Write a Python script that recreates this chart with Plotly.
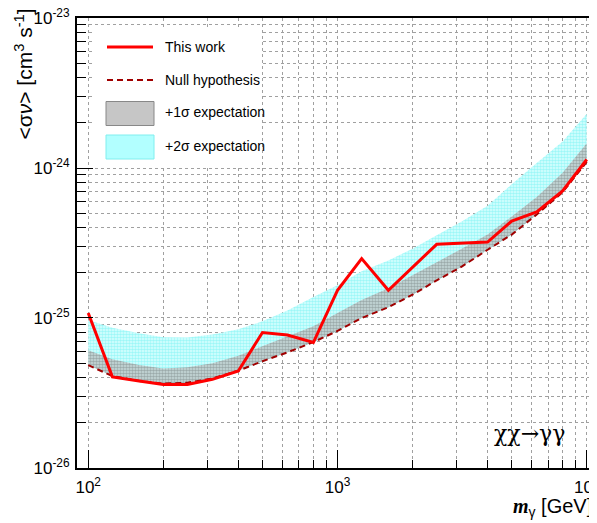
import plotly.graph_objects as go

# ---- data ----
masses = [100, 125, 160, 200, 250, 315, 400, 500, 630, 800, 1000, 1250, 1600,
          2000, 2500, 3150, 4000, 5000, 6300, 8000, 10000]
null_hyp = [4.85e-26, 4.1e-26, 3.8e-26, 3.65e-26, 3.7e-26, 3.95e-26, 4.45e-26,
            5.15e-26, 5.9e-26, 6.9e-26, 8.2e-26, 1.0e-25, 1.18e-25, 1.43e-25,
            1.78e-25, 2.2e-25, 2.85e-25, 3.6e-25, 4.9e-25, 6.9e-25, 1.1e-24]
one_sigma = [6.1e-26, 5.3e-26, 4.85e-26, 4.6e-26, 4.7e-26, 5.0e-26, 5.6e-26,
             6.5e-26, 7.5e-26, 8.8e-26, 1.08e-25, 1.32e-25, 1.58e-25, 1.92e-25,
             2.35e-25, 2.9e-25, 3.6e-25, 4.75e-25, 6.4e-25, 9.3e-25, 1.46e-24]
two_sigma = [9.7e-26, 8.6e-26, 7.9e-26, 7.45e-26, 7.4e-26, 7.75e-26, 8.4e-26,
             9.5e-26, 1.12e-25, 1.38e-25, 1.65e-25, 2.05e-25, 2.42e-25, 2.9e-25,
             3.56e-25, 4.4e-25, 5.6e-25, 7.8e-25, 1.08e-24, 1.5e-24, 2.3e-24]
obs_masses = [100, 125, 160, 200, 250, 315, 400, 500, 630, 800, 1000, 1250,
              1600, 2500, 4000, 5000, 6300, 8000, 10000]
this_work = [1.08e-25, 4.05e-26, 3.8e-26, 3.6e-26, 3.6e-26, 3.9e-26, 4.43e-26,
             8.0e-26, 7.7e-26, 6.86e-26, 1.53e-25, 2.49e-25, 1.53e-25, 3.1e-25,
             3.21e-25, 4.43e-25, 5.09e-25, 7.03e-25, 1.14e-24]

x_major = [100, 1000, 10000]
x_major_text = ["10<sup>2</sup>", "10<sup>3</sup>", "10<sup>4</sup>"]
x_minor = [m * d for d in (100, 1000) for m in range(2, 10)]
y_major = [1e-26, 1e-25, 1e-24, 1e-23]
y_major_text = ["10<sup>-26</sup>", "10<sup>-25</sup>", "10<sup>-24</sup>", "10<sup>-23</sup>"]
y_minor = [m * d for d in (1e-26, 1e-25, 1e-24) for m in range(2, 10)]

legend_labels = ["This work", "Null hypothesis", "+1σ expectation", "+2σ expectation"]

# ---- layout geometry (page pixels of the reference) ----
PAGE_W, PAGE_H = 597, 523
OFF = 8                      # default page body margin
W, H = PAGE_W - OFF, PAGE_H - OFF
L, R, T, B = 77, 596, 18, 468


def px(xp):
    return (xp - L) / (R - L)


def py(yp):
    return (B - yp) / (B - T)


FONT = "Liberation Sans, Arial, Helvetica, sans-serif"
CYAN_BG, CYAN_FG = "#dcffff", "#5cf0f0"
GREY_BG, GREY_FG = "#c9dcdc", "#6e7878"

fig = go.Figure()

# +2 sigma band (null -> 2 sigma)
fig.add_trace(go.Scatter(x=masses, y=null_hyp, mode="lines",
                         line=dict(width=0), showlegend=False, hoverinfo="skip"))
fig.add_trace(go.Scatter(x=masses, y=two_sigma, mode="lines", line=dict(width=0),
                         fill="tonexty", fillcolor="#b4f7f7",
                         fillpattern=dict(shape=".", bgcolor=CYAN_BG, fgcolor=CYAN_FG,
                                          size=3, solidity=0.55),
                         showlegend=False))
# +1 sigma band (null -> 1 sigma)
fig.add_trace(go.Scatter(x=masses, y=null_hyp, mode="lines",
                         line=dict(width=0), showlegend=False, hoverinfo="skip"))
fig.add_trace(go.Scatter(x=masses, y=one_sigma, mode="lines", line=dict(width=0),
                         fill="tonexty", fillcolor="#a4b4b4",
                         fillpattern=dict(shape=".", bgcolor=GREY_BG, fgcolor=GREY_FG,
                                          size=3, solidity=0.55),
                         showlegend=False))
# null hypothesis
fig.add_trace(go.Scatter(x=masses, y=null_hyp, mode="lines",
                         line=dict(color="#a00000", width=2, dash="6px,4px"),
                         showlegend=False))
# this work
fig.add_trace(go.Scatter(x=obs_masses, y=this_work, mode="lines",
                         line=dict(color="#ff0000", width=3), showlegend=False))

axis_common = dict(
    type="log", showline=True, mirror=True, linecolor="black", linewidth=2,
    ticks="inside", tickcolor="black", tickwidth=1,
    showgrid=True, gridcolor="#a0a0a0", griddash="dot", gridwidth=1,
    tickfont=dict(family=FONT, size=17, color="black"),
    zeroline=False, ticklabeloverflow="allow", automargin=False,
)

fig.update_xaxes(**axis_common, range=[1.955, 4.037], tickmode="array",
                 tickvals=x_major, ticktext=x_major_text, ticklen=18,
                 minor=dict(tickmode="array", tickvals=x_minor, ticks="inside",
                            ticklen=8, tickcolor="black", tickwidth=1,
                            showgrid=True, gridcolor="#a0a0a0", griddash="dot",
                            gridwidth=1),
                 ticklabelstandoff=3)
fig.update_yaxes(**axis_common, range=[-26.0002, -22.9998], tickmode="array",
                 tickvals=y_major, ticktext=y_major_text, ticklen=16,
                 minor=dict(tickmode="array", tickvals=y_minor, ticks="inside",
                            ticklen=9, tickcolor="black", tickwidth=1,
                            showgrid=True, gridcolor="#a0a0a0", griddash="dot",
                            gridwidth=1),
                 ticklabelstandoff=2)

shapes = [
    # legend background
    dict(type="rect", xref="paper", yref="paper", x0=px(95), x1=px(261),
         y0=py(165), y1=py(29), fillcolor="white", line=dict(width=0), layer="above"),
    # legend samples
    dict(type="line", xref="paper", yref="paper", x0=px(107), x1=px(153),
         y0=py(47), y1=py(47), line=dict(color="#ff0000", width=3), layer="above"),
    dict(type="line", xref="paper", yref="paper", x0=px(107), x1=px(153),
         y0=py(80), y1=py(80), line=dict(color="#a00000", width=2, dash="6px,4px"),
         layer="above"),
    dict(type="rect", xref="paper", yref="paper", x0=px(106), x1=px(154),
         y0=py(125.5), y1=py(101.5), fillcolor="#c6c6c6",
         line=dict(color="#888888", width=1), layer="above"),
    dict(type="rect", xref="paper", yref="paper", x0=px(106), x1=px(154),
         y0=py(159), y1=py(135), fillcolor="#b2ffff",
         line=dict(color="#80eeee", width=1), layer="above"),
]

annotations = []
for lab, yc in zip(legend_labels, [47, 80, 112, 146]):
    annotations.append(dict(text=lab, xref="paper", yref="paper", x=px(163), y=py(yc),
                            xanchor="left", yanchor="middle", showarrow=False,
                            font=dict(family=FONT, size=14, color="black")))

annotations.append(dict(text="χχ→γγ", xref="paper", yref="paper", x=px(529), y=py(433),
                        xanchor="center", yanchor="middle", showarrow=False,
                        font=dict(family="DejaVu Serif, Liberation Serif, serif",
                                  size=22, color="black")))
annotations.append(dict(text="<σ<i>ν</i>> [cm<sup>3</sup> s<sup>-1</sup>]",
                        xref="paper", yref="paper", x=px(24), y=py(7),
                        xanchor="center", yanchor="top", textangle=-90, showarrow=False,
                        font=dict(family=FONT, size=21, color="black")))
annotations.append(dict(text="<span style='font-family:Liberation Serif'><b><i>m</i></b></span><sub>γ</sub> [GeV]",
                        xref="paper", yref="paper", x=px(594), y=py(508),
                        xanchor="right", yanchor="middle", showarrow=False,
                        font=dict(family=FONT, size=20, color="black")))

fig.update_layout(
    width=W, height=H, autosize=False,
    margin=dict(l=L - OFF, r=W - (R - OFF), t=T - OFF, b=H - (B - OFF)),
    paper_bgcolor="white", plot_bgcolor="white",
    showlegend=False, shapes=shapes, annotations=annotations,
)

fig.write_html("out.html")
